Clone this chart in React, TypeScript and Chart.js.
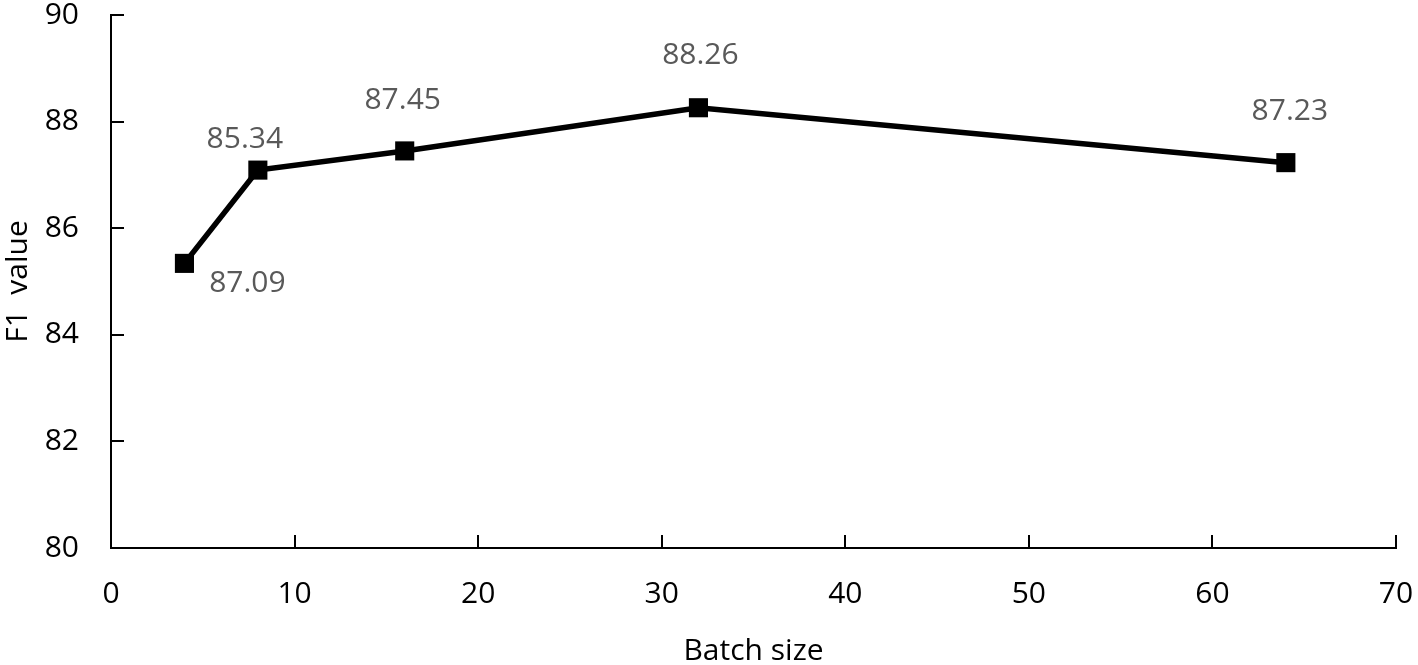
import React, { useEffect, useRef } from "react";
import { Chart, registerables } from "chart.js";

Chart.register(...registerables);

const batchSizes = [4, 8, 16, 32, 64];
const f1Values = [85.34, 87.09, 87.45, 88.26, 87.23];
const pointLabels = ["87.09", "85.34", "87.45", "88.26", "87.23"];
const xTickValues = [0, 10, 20, 30, 40, 50, 60, 70];
const yTickValues = [80, 82, 84, 86, 88, 90];

// label placement offsets (px) relative to each point
const labelOffsets = [
  [63, 20],
  [-13, -31],
  [-2, -50],
  [2, -52],
  [4, -51],
];

const FONT = "'Open Sans', 'Noto Sans', sans-serif";
const FS = 30;

const decorPlugin = {
  id: "decor",
  afterDatasetsDraw(chart: any) {
    const ctx = chart.ctx;
    const xs = chart.scales.x;
    const ys = chart.scales.y;
    const area = chart.chartArea;
    ctx.save();
    // inward tick marks
    ctx.strokeStyle = "#000";
    ctx.lineWidth = 2;
    const tl = 13;
    for (const v of yTickValues) {
      const py = Math.round(ys.getPixelForValue(v));
      ctx.beginPath();
      ctx.moveTo(area.left, py);
      ctx.lineTo(area.left + tl, py);
      ctx.stroke();
    }
    for (const v of xTickValues) {
      const px = Math.round(xs.getPixelForValue(v));
      ctx.beginPath();
      ctx.moveTo(px, area.bottom);
      ctx.lineTo(px, area.bottom - tl);
      ctx.stroke();
    }
    // data labels
    ctx.fillStyle = "#595959";
    ctx.font = `${FS}px ${FONT}`;
    ctx.textAlign = "center";
    ctx.textBaseline = "middle";
    batchSizes.forEach((b, i) => {
      const px = xs.getPixelForValue(b);
      const py = ys.getPixelForValue(f1Values[i]);
      ctx.fillText(pointLabels[i], px + labelOffsets[i][0], py + labelOffsets[i][1]);
    });
    ctx.restore();
  },
};

export default function App() {
  const ref = useRef<HTMLCanvasElement | null>(null);
  useEffect(() => {
    document.body.style.margin = "0";
    const canvas = ref.current!;
    const chart = new Chart(canvas, {
      type: "line",
      data: {
        datasets: [
          {
            data: batchSizes.map((b, i) => ({ x: b, y: f1Values[i] })),
            borderColor: "#000",
            backgroundColor: "#000",
            borderWidth: 5.5,
            pointStyle: "rect",
            pointRadius: 13.5,
            pointBackgroundColor: "#000",
            pointBorderColor: "#000",
            pointBorderWidth: 0,
            tension: 0,
          },
        ],
      },
      options: {
        animation: false,
        responsive: false,
        events: [],
        layout: { padding: { top: 15, right: 22, left: 0, bottom: 0 } },
        plugins: { legend: { display: false }, tooltip: { enabled: false } },
        scales: {
          x: {
            type: "linear",
            min: 0,
            max: 70,
            afterFit: (s: any) => {
              s.height = 117;
              s.paddingLeft = 0;
              s.paddingRight = 0;
              s.paddingTop = 0;
              s.paddingBottom = 0;
            },
            afterBuildTicks: (s: any) => {
              s.ticks = xTickValues.map((v) => ({ value: v }));
            },
            grid: { display: false },
            border: { display: true, color: "#000", width: 2 },
            ticks: {
              color: "#000",
              font: { family: FONT, size: FS },
              padding: 20,
              maxRotation: 0,
            },
            title: {
              display: true,
              text: "Batch size",
              color: "#000",
              font: { family: FONT, size: FS, lineHeight: 0.87 },
              padding: 0,
            },
          },
          y: {
            type: "linear",
            min: 80,
            max: 90,
            afterFit: (s: any) => {
              s.width = 111;
              s.paddingLeft = 0;
              s.paddingRight = 0;
              s.paddingTop = 0;
              s.paddingBottom = 0;
            },
            afterBuildTicks: (s: any) => {
              s.ticks = yTickValues.map((v) => ({ value: v }));
            },
            grid: { display: false },
            border: { display: true, color: "#000", width: 2 },
            ticks: {
              color: "#000",
              font: { family: FONT, size: FS },
              padding: 24,
            },
            title: {
              display: true,
              text: "F1  value",
              color: "#000",
              font: { family: FONT, size: FS, lineHeight: 1.2 },
              padding: 0,
            },
          },
        },
      },
      plugins: [decorPlugin],
    } as any);
    return () => chart.destroy();
  }, []);
  return (
    <div style={{ position: "absolute", left: 0, top: 0, width: 1418, height: 665, background: "#fff" }}>
      <canvas ref={ref} width={1418} height={665} style={{ display: "block", width: 1418, height: 665 }} />
    </div>
  );
}
